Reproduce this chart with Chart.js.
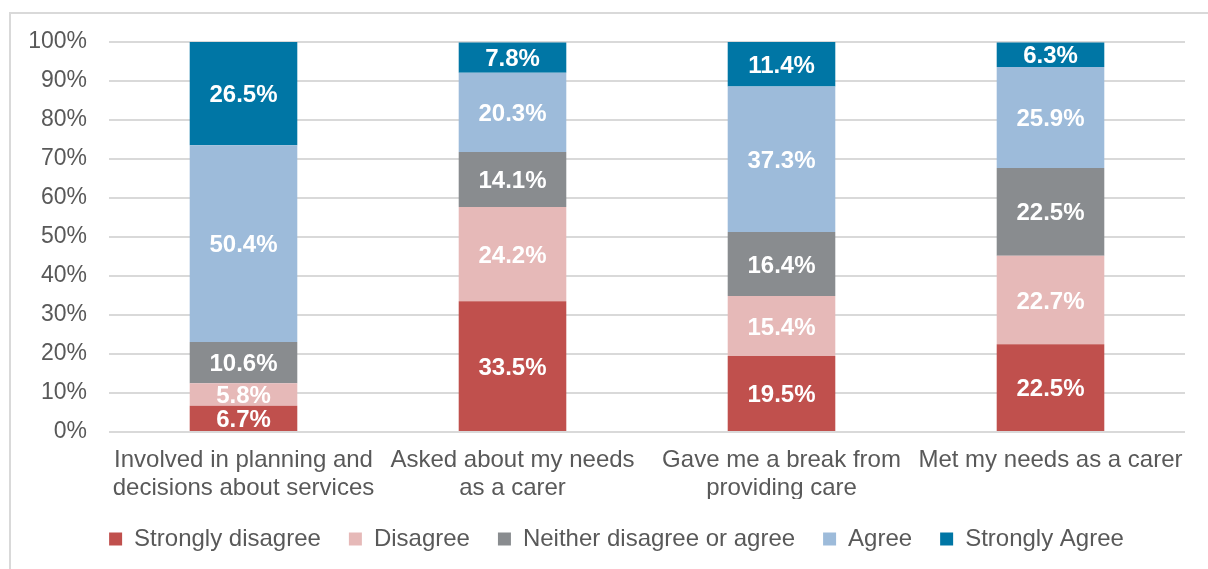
<!DOCTYPE html>
<html>
<head>
<meta charset="utf-8">
<script src="https://cdn.jsdelivr.net/npm/chart.js@4/dist/chart.umd.min.js"></script>
<style>
  body { margin: 0; background: #fff; }
  #wrap { position: relative; width: 1208px; height: 569px; overflow: hidden; }
  #frame { position: absolute; left: 9px; top: 12px; width: 1400px; height: 800px;
           border-top: 2px solid #d9d9d9; border-left: 2px solid #d9d9d9; }
  canvas { position: absolute; left: 0; top: 0; }
</style>
</head>
<body>
<div id="wrap">
  <div id="frame"></div>
  <canvas id="chart" width="1208" height="569"></canvas>
</div>
<script>
const categories = [
    ['Involved in planning and', 'decisions about services'],
    ['Asked about my needs', 'as a carer'],
    ['Gave me a break from', 'providing care'],
    ['Met my needs as a carer']
];
const stronglyDisagree = [6.7, 33.5, 19.5, 22.5];
const disagree         = [5.8, 24.2, 15.4, 22.7];
const neither          = [10.6, 14.1, 16.4, 22.5];
const agree            = [50.4, 20.3, 37.3, 25.9];
const stronglyAgree    = [26.5, 7.8, 11.4, 6.3];
const yTicks = [0, 10, 20, 30, 40, 50, 60, 70, 80, 90, 100];

const FONT = '"Liberation Sans", Arial, sans-serif';
const GREY_TEXT = '#595959';

// white value labels in the middle of every segment
const barLabels = {
    id: 'barLabels',
    afterDatasetsDraw(chart) {
        const ctx = chart.ctx;
        ctx.save();
        ctx.font = 'bold 24px ' + FONT;
        ctx.fillStyle = '#ffffff';
        ctx.textAlign = 'center';
        ctx.textBaseline = 'middle';
        chart.data.datasets.forEach((ds, i) => {
            chart.getDatasetMeta(i).data.forEach((bar, j) => {
                ctx.fillText(ds.data[j].toFixed(1) + '%', bar.x, (bar.y + bar.base) / 2 + 2);
            });
        });
        ctx.restore();
    }
};

// the legend in the original sits a bit right of the canvas centre
const nudgeLegend = {
    id: 'nudgeLegend',
    afterLayout(chart) {
        chart.legend.left += 24;
        chart.legend.right += 24;
    }
};

const makeSet = (label, data, color) => ({
    label, data, backgroundColor: color, borderWidth: 0,
    barPercentage: 0.4, categoryPercentage: 1
});

new Chart(document.getElementById('chart'), {
    type: 'bar',
    data: {
        labels: categories,
        datasets: [
            makeSet('Strongly disagree', stronglyDisagree, '#c0504d'),
            makeSet('Disagree', disagree, '#e6b9b8'),
            makeSet('Neither disagree or agree', neither, '#898c8f'),
            makeSet('Agree', agree, '#9dbbda'),
            makeSet('Strongly Agree', stronglyAgree, '#0076a5')
        ]
    },
    options: {
        responsive: false,
        animation: false,
        layout: { padding: { left: 0, right: 23, top: 42, bottom: 8 } },
        plugins: {
            tooltip: { enabled: false },
            legend: {
                position: 'bottom',
                labels: {
                    boxWidth: 13, boxHeight: 13, padding: 28,
                    color: GREY_TEXT, font: { family: FONT, size: 24 }
                }
            }
        },
        scales: {
            x: {
                stacked: true,
                grid: { display: false },
                border: { display: false },
                ticks: { color: GREY_TEXT, padding: 6, maxRotation: 0, autoSkip: false,
                         font: { family: FONT, size: 24, lineHeight: 1.17 } },
                afterFit: s => { s.height = 67; }
            },
            y: {
                stacked: true,
                min: 0, max: 100,
                afterBuildTicks: s => { s.ticks = yTicks.map(v => ({ value: v })); },
                grid: { color: '#d9d9d9', lineWidth: 2, drawTicks: false },
                border: { display: false },
                ticks: { color: GREY_TEXT, padding: 22, callback: v => v + '%',
                         font: { family: FONT, size: 23 } },
                afterFit: s => { s.width = 109; }
            }
        }
    },
    plugins: [barLabels, nudgeLegend]
});
</script>
</body>
</html>
